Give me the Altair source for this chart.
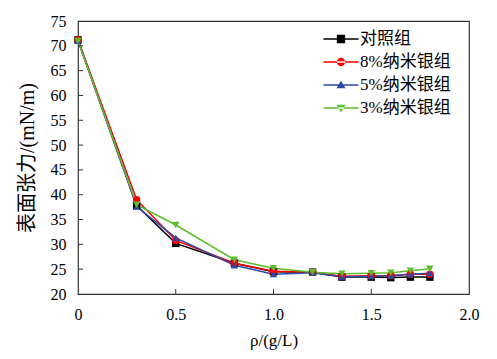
import altair as alt
import pandas as pd

x_vals = [0, 0.3, 0.5, 0.8, 1.0, 1.2, 1.35, 1.5, 1.6, 1.7, 1.8]
series_names = ["对照组", "8%纳米银组", "5%纳米银组", "3%纳米银组"]
control = [71.2, 37.8, 30.2, 26.2, 24.5, 24.4, 23.4, 23.4, 23.3, 23.4, 23.4]
ag8 = [71.2, 39.0, 30.8, 26.2, 24.6, 24.4, 23.6, 23.7, 23.7, 24.0, 24.0]
ag5 = [71.0, 37.6, 31.3, 25.8, 24.0, 24.3, 23.5, 23.6, 23.7, 24.0, 24.2]
ag3 = [71.0, 38.0, 33.9, 26.9, 25.2, 24.4, 24.1, 24.2, 24.3, 24.7, 25.1]
colors = ["#000000", "#ff0000", "#3048a8", "#5cbf2a"]
shapes = ["square", "circle", "triangle-up", "triangle-down"]
x_ticks = [0.5, 1.0, 1.5]
y_ticks = [25, 30, 35, 40, 45, 50, 55, 60, 65, 70]
x_labels = [0, 0.5, 1.0, 1.5, 2.0]
y_labels = [20, 25, 30, 35, 40, 45, 50, 55, 60, 65, 70, 75]

rows = []
for name, vals in zip(series_names, [control, ag8, ag5, ag3]):
    for xv, yv in zip(x_vals, vals):
        rows.append({"x": xv, "y": yv, "series": name, "series_l": name})
df = pd.DataFrame(rows)

font = "'Liberation Serif', 'Times New Roman', 'Noto Sans CJK SC', serif"

xs = alt.Scale(domain=[0, 2.0], nice=False)
ys = alt.Scale(domain=[20, 75], nice=False)

xaxis = alt.Axis(
    title="ρ/(g/L)", values=x_labels, ticks=False, domain=False,
    grid=False, labelExpr="datum.value == 0 ? '0' : format(datum.value, '.1f')",
    labelPadding=12, titlePadding=10, labelFontSize=16, titleFontSize=17,
    labelFont=font, titleFont=font, labelColor="black", titleColor="black",
    titleFontWeight="normal", labelFlush=False, labelOverlap=False)
yaxis = alt.Axis(
    title="表面张力/(mN/m)", values=y_labels, ticks=False, domain=False,
    grid=False, labelPadding=12, titlePadding=13, labelFontSize=16, titleFontSize=20,
    labelFont=font, titleFont=font, labelColor="black", titleColor="black",
    titleFontWeight="normal", labelFlush=False, labelOverlap=False)

xenc = alt.X("x:Q", scale=xs, axis=xaxis)
yenc = alt.Y("y:Q", scale=ys, axis=yaxis)

cscale = alt.Scale(domain=series_names, range=colors)

lines = alt.Chart(df).mark_line(strokeWidth=1.5).encode(
    x=xenc, y=yenc,
    color=alt.Color("series:N", scale=cscale, legend=None),
    detail="series:N",
)
points = alt.Chart(df).mark_point(filled=True, size=55, opacity=1).encode(
    x=xenc, y=yenc,
    color=alt.Color("series:N", scale=cscale, legend=None),
    shape=alt.Shape("series:N", scale=alt.Scale(domain=series_names, range=shapes), legend=None),
)

leg_paths = [
    "M-1.95,-0.09H1.95V0.09H-1.95Z M-0.46,-0.46H0.46V0.46H-0.46Z",
    "M-1.95,-0.09H1.95V0.09H-1.95Z M-0.46,0A0.46,0.46 0 1,0 0.46,0A0.46,0.46 0 1,0 -0.46,0Z",
    "M-1.95,-0.09H1.95V0.09H-1.95Z M0,-0.5L0.5,0.35H-0.5Z",
    "M-1.95,-0.09H1.95V0.09H-1.95Z M0,0.5L0.5,-0.35H-0.5Z",
]
leg = alt.Legend(title=None, orient="none", legendX=254, legendY=9,
                 symbolSize=324, symbolOpacity=1, labelFont=font,
                 labelFontSize=17, labelColor="black", rowPadding=6,
                 labelOffset=10, symbolStrokeWidth=0)
legend_layer = alt.Chart(df).mark_point(filled=True, opacity=0).encode(
    x=xenc, y=yenc,
    color=alt.Color("series_l:N", scale=alt.Scale(domain=series_names, range=colors), legend=leg),
    shape=alt.Shape("series_l:N", scale=alt.Scale(domain=series_names, range=leg_paths), legend=leg),
)

xt = alt.Chart(pd.DataFrame({"t": x_ticks})).mark_rule(color="#333", strokeWidth=1).encode(
    x=alt.X("t:Q", scale=xs, axis=xaxis), y=alt.value(273), y2=alt.value(268))
yt = alt.Chart(pd.DataFrame({"t": y_ticks})).mark_rule(color="#333", strokeWidth=1).encode(
    y=alt.Y("t:Q", scale=ys, axis=yaxis), x=alt.value(0), x2=alt.value(5))

chart = alt.layer(lines, points, legend_layer, xt, yt).resolve_scale(
    color="independent", shape="independent"
).properties(
    width=391, height=273,
    autosize=alt.AutoSizeParams(type="none"),
    padding={"left": 70, "top": 13, "right": 20, "bottom": 70},
).configure_view(stroke="#333", strokeWidth=1.2)

chart.save("out.html", embed_options={"renderer": "svg", "actions": False})
